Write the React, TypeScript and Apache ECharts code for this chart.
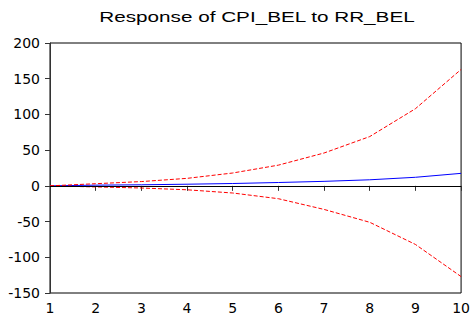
import React, { useEffect, useRef } from "react";
import * as echarts from "echarts";

const periods = [1, 2, 3, 4, 5, 6, 7, 8, 9, 10];
const response = [0, 1, 1.5, 2.3, 3.3, 4.7, 6.3, 8.5, 12, 17.5];
const upperBand = [0, 3, 6, 10.5, 18, 29, 46, 69, 108, 163];
const lowerBand = [0, -1.5, -3, -5.5, -10, -18, -33, -51, -82, -127];
const titleText = "Response of CPI_BEL to RR_BEL";

export default function App() {
  const ref = useRef<HTMLDivElement>(null);
  useEffect(() => {
    if (!ref.current) return;
    const chart = echarts.init(ref.current, null, { renderer: "svg" });
    const pair = (vals: number[]) => periods.map((p, i) => [p, vals[i]]);
    chart.setOption({
      animation: false,
      backgroundColor: "#ffffff",
      grid: {
        left: 50,
        right: 9,
        top: 43,
        bottom: 23,
        show: true,
        borderColor: "#000000",
        borderWidth: 1,
      },
      graphic: [
        {
          type: "text",
          x: 257,
          y: 10,
          scaleX: 1.38,
          style: {
            text: titleText,
            fill: "#000000",
            font: "15px 'Liberation Sans', Arial, sans-serif",
            textAlign: "center",
            textVerticalAlign: "top",
          },
        },
      ],
      xAxis: {
        type: "value",
        min: 1,
        max: 10,
        interval: 1,
        axisLine: { show: true, lineStyle: { color: "#333333", width: 1 } },
        axisTick: { show: true, inside: false, length: 5, lineStyle: { color: "#333333" } },
        axisLabel: {
          color: "#000000",
          fontFamily: "DejaVu Sans",
          fontSize: 14,
          margin: 8,
        },
        splitLine: { show: false },
      },
      yAxis: {
        type: "value",
        min: -150,
        max: 200,
        interval: 50,
        axisLine: { show: true, onZero: false, lineStyle: { color: "#333333", width: 1 } },
        axisTick: { show: true, inside: false, length: 5, lineStyle: { color: "#333333" } },
        axisLabel: {
          color: "#000000",
          fontFamily: "DejaVu Sans",
          fontSize: 14,
          margin: 10,
        },
        splitLine: { show: false },
      },
      series: [
        {
          type: "line",
          data: pair(response),
          showSymbol: false,
          symbol: "none",
          lineStyle: { color: "#0000ff", width: 1 },
          markLine: {
            silent: true,
            symbol: "none",
            label: { show: false },
            lineStyle: { color: "#000000", width: 1, type: "solid" },
            data: [{ yAxis: 0 }],
          },
        },
        {
          type: "line",
          data: pair(upperBand),
          symbol: "none",
          lineStyle: { color: "#ff0000", width: 1, type: [4, 2] },
        },
        {
          type: "line",
          data: pair(lowerBand),
          symbol: "none",
          lineStyle: { color: "#ff0000", width: 1, type: [4, 2] },
        },
      ],
    });
    return () => chart.dispose();
  }, []);
  return (
    <div
      ref={ref}
      style={{ position: "fixed", left: 0, top: 0, width: 473, height: 316 }}
    />
  );
}
